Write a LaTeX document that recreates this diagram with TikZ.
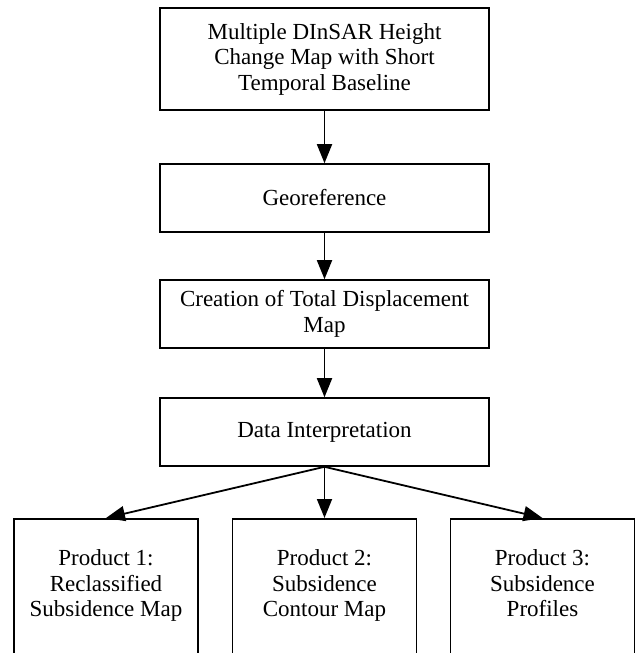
\documentclass[tikz,border=0pt]{standalone}
\usepackage{fontspec}
\setmainfont{Liberation Serif}
\usetikzlibrary{arrows.meta}
\tikzset{
  stepbox/.style={draw, line width=1.6pt, align=center, inner sep=0pt,
    minimum width=329pt, minimum height=68pt,
    font=\fontsize{23}{25.5}\selectfont},
  prodbox/.style={stepbox, anchor=north, minimum width=184pt, minimum height=137pt,
    execute at end node={\strut}},
  flow/.style={line width=1.8pt, -{Triangle[length=19pt,width=15pt]}}
}
\begin{document}
\begin{tikzpicture}[x=1pt, y=-1pt]
    \clip (0, 0) rectangle (636, 653);
    \node[stepbox, minimum height=102pt] (hcm) at (324.5, 59)
         {Multiple DInSAR Height\\Change Map with Short\\Temporal Baseline};
    \node[stepbox] (geo) at (324.5, 198) {Georeference};
    \node[stepbox] (tdm) at (324.5, 314) {Creation of Total Displacement\\Map};
    \node[stepbox] (interp) at (324.5, 432) {Data Interpretation};
    \node[prodbox] (prod1) at (106, 518) {Product 1:\\Reclassified\\Subsidence Map};
    \node[prodbox] (prod2) at (324.5, 518) {Product 2:\\Subsidence\\Contour Map};
    \node[prodbox] (prod3) at (542.5, 518) {Product 3:\\Subsidence\\Profiles};
    % arrows
    \draw[flow] (hcm) -- (geo);
    \draw[flow] (geo) -- (tdm);
    \draw[flow] (tdm) -- (interp);
    \draw[flow] (interp.south) -- (prod1.north);
    \draw[flow] (interp.south) -- (prod2.north);
    \draw[flow] (interp.south) -- (prod3.north);
\end{tikzpicture}
\end{document}
